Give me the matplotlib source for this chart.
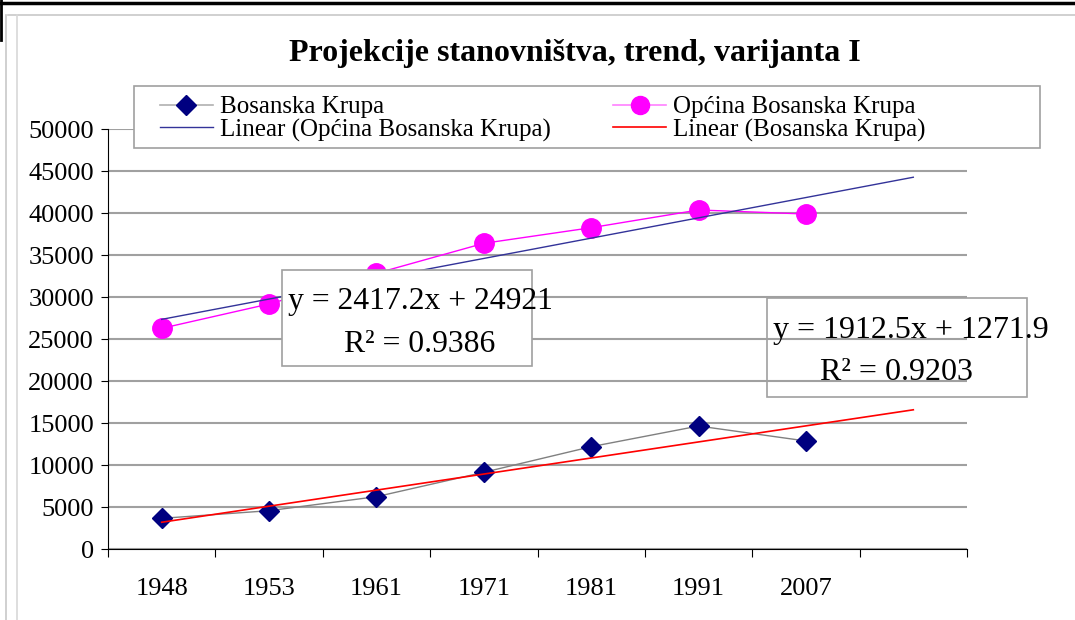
import numpy as np
import matplotlib
matplotlib.use("Agg")
from matplotlib import pyplot as plt
from matplotlib.lines import Line2D
from matplotlib.patches import Rectangle

plt.rcParams["font.family"] = ["Liberation Serif", "DejaVu Serif"]

years = ["1948", "1953", "1961", "1971", "1981", "1991", "2007"]
krupa = [3650, 4560, 6230, 9130, 12180, 14640, 12860]
opcina = [26270, 29170, 32820, 36390, 38250, 40360, 39880]
yticks = [0, 5000, 10000, 15000, 20000, 25000, 30000, 35000, 40000, 45000, 50000]

# trendline equations as printed on the chart
op_slope, op_icpt, op_r2 = 2417.2, 24921, 0.9386
kr_slope, kr_icpt, kr_r2 = 1912.5, 1271.9, 0.9203

W, H = 1075, 620
fig = plt.figure(figsize=(W / 100, H / 100), dpi=100)
ax = fig.add_axes([108 / W, 1 - 549 / H, (967 - 108) / W, (549 - 129) / H])

x = np.arange(1, len(years) + 1)
xt = np.arange(1, len(years) + 2)  # trend extended one period forward

ax.plot(x, krupa, color="#808080", lw=1, marker="D", ms=10,
        mfc="#000080", mec="#000080", zorder=4)
ax.plot(x, opcina, color="#ff00ff", lw=1, marker="o", ms=14,
        mfc="#ff00ff", mec="#ff00ff", zorder=4)
ax.plot(xt, op_slope * xt + op_icpt, color="#333399", lw=1, zorder=5)
ax.plot(xt, kr_slope * xt + kr_icpt, color="#ff0000", lw=1.2, zorder=5)

ax.set_xlim(0.5, len(years) + 1.5)
ax.set_ylim(0, 50000)
ax.set_yticks(yticks)
ax.set_yticklabels([str(v) for v in yticks])
ax.grid(axis="y", color="#a0a0a0", lw=1.5, zorder=0)
ax.set_axisbelow(True)
ax.set_xticks(np.arange(0.5, len(years) + 2, 1.0))
ax.set_xticklabels([])
ax.set_xticks(x, minor=True)
ax.set_xticklabels(years, minor=True)
ax.tick_params(axis="x", which="major", length=6, direction="out", color="black")
ax.tick_params(axis="x", which="minor", length=0, pad=21, labelsize=19)
ax.tick_params(axis="y", length=5, direction="out", pad=5, labelsize=19)
for s in ["top", "right"]:
    ax.spines[s].set_visible(False)

fig.text(575 / W, 1 - 53 / H, "Projekcije stanovništva, trend, varijanta I",
         ha="center", va="center", fontsize=23, fontweight="bold")

# legend
fig.patches.append(Rectangle((134 / W, 1 - 148 / H), (1040 - 134) / W, 62 / H,
                             transform=fig.transFigure, fc="white",
                             ec="#a0a0a0", lw=1.2, zorder=6))
handles = [
    Line2D([], [], color="#b0b0b0", lw=1.2, marker="D", ms=10, mfc="#000080", mec="#000080"),
    Line2D([], [], color="#333399", lw=1),
    Line2D([], [], color="#ff80ff", lw=1.2, marker="o", ms=13, mfc="#ff00ff", mec="#ff00ff"),
    Line2D([], [], color="#ff0000", lw=1.2),
]
labels = ["Bosanska Krupa", "Linear (Općina Bosanska Krupa)",
          "Općina Bosanska Krupa", "Linear (Bosanska Krupa)"]
leg = fig.legend(handles, labels, ncol=2, loc="upper left",
                 bbox_to_anchor=(160 / W, 1 - 96 / H), frameon=False,
                 fontsize=18, handlelength=2.1, handletextpad=0.3,
                 columnspacing=2.5, labelspacing=0.0, borderpad=0,
                 borderaxespad=0)
leg.set_zorder(7)

# trendline equation boxes
fig.patches.append(Rectangle((282 / W, 1 - 366 / H), 250 / W, 96 / H,
                             transform=fig.transFigure, fc="white",
                             ec="#a0a0a0", lw=1.2, zorder=1.5))
fig.text(288 / W, 1 - 302 / H, "y = %.1fx + %d" % (op_slope, op_icpt),
         ha="left", va="center", fontsize=22.8, zorder=8)
fig.text(420 / W, 1 - 344 / H, "R² = %.4f" % op_r2,
         ha="center", va="center", fontsize=22.8, zorder=8)

fig.patches.append(Rectangle((767 / W, 1 - 397 / H), 260 / W, 99 / H,
                             transform=fig.transFigure, fc="none",
                             ec="#a0a0a0", lw=1.2, zorder=8))
fig.text(773 / W, 1 - 331 / H, "y = %.1fx + %.1f" % (kr_slope, kr_icpt),
         ha="left", va="center", fontsize=23, zorder=8)
fig.text(897 / W, 1 - 372 / H, "R² = %.4f" % kr_r2,
         ha="center", va="center", fontsize=23, zorder=8)

# page frame remnants
fig.add_artist(Line2D([0, 1], [1 - 3 / H, 1 - 3 / H], color="black", lw=2.5,
                      transform=fig.transFigure))
fig.add_artist(Line2D([8 / W, 1], [1 - 15 / H, 1 - 15 / H], color="#c8c8c8", lw=1.2,
                      transform=fig.transFigure))
fig.add_artist(Line2D([6 / W, 6 / W], [0, 1 - 15 / H], color="#c8c8c8", lw=1.2,
                      transform=fig.transFigure))
fig.add_artist(Line2D([17 / W, 17 / W], [0, 1 - 15 / H], color="#d8d8d8", lw=1.2,
                      transform=fig.transFigure))
fig.add_artist(Line2D([1 / W, 1 / W], [1, 1 - 40 / H], color="black", lw=2,
                      transform=fig.transFigure))

fig.savefig("out.png", dpi=100)
